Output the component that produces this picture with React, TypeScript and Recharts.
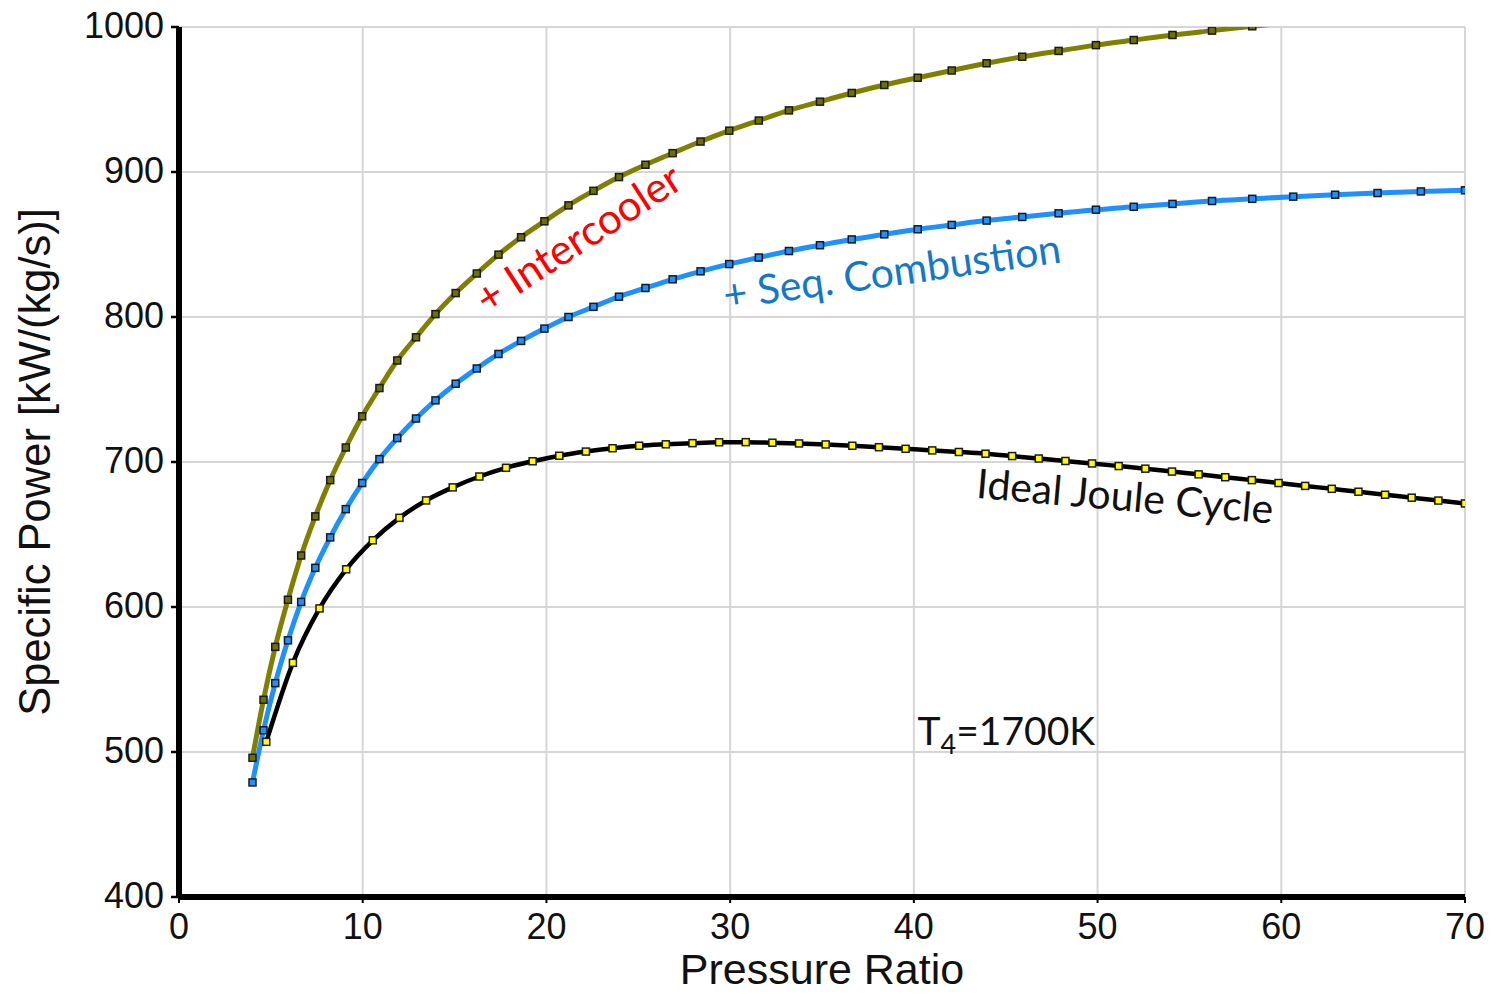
import React from "react";
import {
  LineChart,
  Line,
  XAxis,
  YAxis,
  CartesianGrid,
  ReferenceDot,
  Label,
} from "recharts";

// Pressure ratios of the intercooled / sequential-combustion cycle points
const ratioStaged = [
  4.0, 4.6, 5.24, 5.93, 6.65, 7.42, 8.23, 9.08, 9.97, 10.91, 11.88, 12.9, 13.96,
  15.06, 16.21, 17.39, 18.62, 19.89, 21.2, 22.56, 23.95, 25.39, 26.87, 28.39,
  29.95, 31.56, 33.2, 34.89, 36.62, 38.39, 40.21, 42.06, 43.96, 45.9, 47.88,
  49.91, 51.97, 54.08, 56.23, 58.42, 60.65, 62.93, 65.24, 67.6, 70.0,
];

// Specific power, Joule cycle + intercooler [kW/(kg/s)]
const powerIntercooler = [
  496, 536, 572.5, 605, 635.5, 662.5, 687.5, 710, 731.5, 751, 770, 786, 802,
  816.5, 830, 843, 855, 866, 877, 887, 896.5, 905, 913, 921, 928.5, 935.5,
  942.5, 948.5, 954.5, 960, 965, 970, 975, 979.5, 983.5, 987.5, 991, 994.5,
  997.5, 1000.5, 1003.3, 1006, 1008.5, 1010.8, 1013,
];

// Specific power, Joule cycle + sequential combustion [kW/(kg/s)]
const powerSeqCombustion = [
  479, 515, 547.5, 577, 603.5, 627, 648, 667.5, 685.5, 702, 716.5, 730, 742.5,
  754, 764.5, 774.5, 783.5, 792, 800, 807, 814, 820, 826, 831.5, 836.5, 841,
  845.5, 849.5, 853.5, 857, 860.5, 863.5, 866.5, 869, 871.5, 874, 876, 878, 880,
  881.5, 883, 884.3, 885.5, 886.6, 887.4,
];

// Pressure ratios of the ideal Joule cycle points
const ratioJoule = [
  4.75, 6.2, 7.65, 9.1, 10.55, 12.0, 13.45, 14.9, 16.35, 17.8, 19.25, 20.7,
  22.15, 23.6, 25.05, 26.5, 27.95, 29.4, 30.85, 32.3, 33.75, 35.2, 36.65, 38.1,
  39.55, 41.0, 42.45, 43.9, 45.35, 46.8, 48.25, 49.7, 51.15, 52.6, 54.05, 55.5,
  56.95, 58.4, 59.85, 61.3, 62.75, 64.2, 65.65, 67.1, 68.55, 70.0,
];

// Specific power, ideal Joule cycle [kW/(kg/s)]
const powerJoule = [
  507, 561.5, 599, 626, 646, 661.5, 673.5, 682.5, 690, 696, 700.5, 704.3, 707.2,
  709.5, 711.2, 712.2, 713, 713.6, 713.7, 713.3, 712.8, 712.1, 711.2, 710.2,
  709.1, 708, 706.9, 705.7, 704.1, 702.4, 700.7, 699, 697.2, 695.4, 693.4,
  691.5, 689.5, 687.5, 685.5, 683.5, 681.5, 679.5, 677.4, 675.4, 673.4, 671.4,
];

const xTicks = [0, 10, 20, 30, 40, 50, 60, 70];
const yTicks = [400, 500, 600, 700, 800, 900, 1000];

const toPoints = (xs: number[], ys: number[]) =>
  xs.map((x, i) => ({ x, y: ys[i] }));

const intercoolerData = toPoints(ratioStaged, powerIntercooler);
const seqCombustionData = toPoints(ratioStaged, powerSeqCombustion);
const jouleData = toPoints(ratioJoule, powerJoule);

const AXIS_FONT = "'Liberation Sans', Arial, sans-serif";
const NOTE_FONT = "Lato, 'Open Sans', sans-serif";

const squareDot = (fill: string) => (props: any) => {
  const { cx, cy, index } = props;
  if (cx == null || cy == null) return <g key={`d-${index}`} />;
  return (
    <rect
      key={`d-${index}`}
      x={cx - 3.5}
      y={cy - 3.5}
      width={7}
      height={7}
      fill={fill}
      stroke="#1a1a1a"
      strokeWidth={1.5}
    />
  );
};

const slantedNote =
  (text: string, angle: number, color: string, size: number) =>
  (props: any) => {
    const { x, y } = props.viewBox;
    return (
      <text
        x={x}
        y={y}
        transform={`rotate(${angle} ${x} ${y})`}
        textAnchor="middle"
        dominantBaseline="central"
        fill={color}
        fontFamily={NOTE_FONT}
        fontSize={size}
      >
        {text}
      </text>
    );
  };

const temperatureNote = (props: any) => {
  const { x, y } = props.viewBox;
  return (
    <text x={x} y={y} fill="#111" fontFamily={NOTE_FONT} fontSize={39}>
      <tspan>T</tspan>
      <tspan fontSize={27} dy={9}>
        4
      </tspan>
      <tspan dy={-9}>=1700K</tspan>
    </text>
  );
};

const yTitle = (props: any) => {
  const { x, y, height } = props.viewBox;
  const cx = x + 50;
  const cy = y + height / 2;
  return (
    <text
      x={cx}
      y={cy}
      transform={`rotate(-90 ${cx} ${cy})`}
      textAnchor="middle"
      fill="#111"
      fontFamily={AXIS_FONT}
      fontSize={43.5}
    >
      Specific Power [kW/(kg/s)]
    </text>
  );
};

const xTitle = (props: any) => {
  const { x, y, width } = props.viewBox;
  return (
    <text
      x={x + width / 2}
      y={y + 87}
      textAnchor="middle"
      fill="#111"
      fontFamily={AXIS_FONT}
      fontSize={43}
    >
      Pressure Ratio
    </text>
  );
};

export default function App() {
  return (
    <div
      style={{
        position: "absolute",
        left: 0,
        top: 0,
        width: 1499,
        height: 994,
        background: "#ffffff",
      }}
    >
      <LineChart
        width={1499}
        height={994}
        margin={{ top: 27, right: 34, bottom: 0, left: 0 }}
      >
        <CartesianGrid stroke="#d6d6d6" strokeWidth={2} />
        <XAxis
          dataKey="x"
          type="number"
          domain={[0, 70]}
          ticks={xTicks}
          height={97}
          axisLine={{ stroke: "#000", strokeWidth: 6 }}
          tickLine={{ stroke: "#000", strokeWidth: 2 }}
          tickSize={6}
          tickMargin={10}
          tick={{ fill: "#111", fontFamily: AXIS_FONT, fontSize: 36 }}
          allowDataOverflow
        >
          <Label content={xTitle} />
        </XAxis>
        <YAxis
          type="number"
          domain={[400, 1000]}
          ticks={yTicks}
          width={179}
          axisLine={{ stroke: "#000", strokeWidth: 6 }}
          tickLine={{ stroke: "#000", strokeWidth: 2.5 }}
          tickSize={8}
          tickMargin={7}
          tick={{ fill: "#111", fontFamily: AXIS_FONT, fontSize: 36, dy: -2 }}
          allowDataOverflow
        >
          <Label content={yTitle} />
        </YAxis>

        <Line
          data={intercoolerData}
          dataKey="y"
          type="monotone"
          stroke="#808000"
          strokeWidth={5}
          dot={squareDot("#707000")}
          activeDot={false}
          isAnimationActive={false}
        />
        <Line
          data={seqCombustionData}
          dataKey="y"
          type="monotone"
          stroke="#1e90ff"
          strokeWidth={5}
          dot={squareDot("#1e90ff")}
          activeDot={false}
          isAnimationActive={false}
        />
        <Line
          data={jouleData}
          dataKey="y"
          type="monotone"
          stroke="#000000"
          strokeWidth={4.5}
          dot={squareDot("#ffff00")}
          activeDot={false}
          isAnimationActive={false}
        />

        <ReferenceDot
          x={21.7}
          y={855}
          r={0}
          fill="none"
          stroke="none"
          label={slantedNote("+ Intercooler", -33, "#ff0000", 42)}
        />
        <ReferenceDot
          x={38.8}
          y={832}
          r={0}
          fill="none"
          stroke="none"
          label={slantedNote("+ Seq. Combustion", -8, "#1478c8", 41)}
        />
        <ReferenceDot
          x={51.5}
          y={677}
          r={0}
          fill="none"
          stroke="none"
          label={slantedNote("Ideal Joule Cycle", 5, "#111111", 41)}
        />
        <ReferenceDot
          x={40.2}
          y={504.5}
          r={0}
          fill="none"
          stroke="none"
          label={temperatureNote}
        />
      </LineChart>
    </div>
  );
}
